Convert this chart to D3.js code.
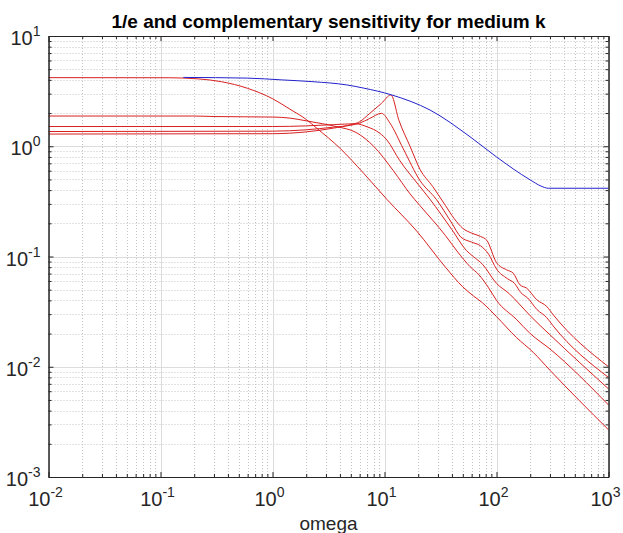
<!DOCTYPE html>
<html>
<head>
<meta charset="utf-8">
<script src="https://cdn.jsdelivr.net/npm/d3@7"></script>
<style>
  body { margin: 0; background: #fff; }
  text { font-family: "Liberation Sans", Arial, sans-serif; fill: #262626; }
</style>
</head>
<body>
<svg id="chart" width="623" height="533"></svg>
<script>
const title = '1/e and complementary sensitivity for medium k';
const xLabel = 'omega';
const xDecades = [-2, -1, 0, 1, 2, 3];
const yDecades = [-3, -2, -1, 0, 1];

// 1/e bound, [omega, magnitude]
const invE = [
  [0.16, 4.21], [0.6, 4.15], [1.2, 4.0], [2.3, 3.85], [4.6, 3.6], [6.5, 3.37],
  [11.6, 2.92], [25.5, 2.13], [58, 1.22], [100, 0.80], [200, 0.495], [250, 0.435],
  [290, 0.416], [1000, 0.416]
];

// complementary sensitivity, one array per plant
const tA = [
  [0.01, 4.19], [0.12, 4.18], [0.22, 4.08], [0.35, 3.85], [0.6, 3.35], [1.0, 2.7],
  [1.43, 2.17], [2.0, 1.75], [2.5, 1.45], [4.0, 0.96], [6.5, 0.57], [10.5, 0.33],
  [19.4, 0.17], [35, 0.08], [50, 0.053], [62, 0.044], [75, 0.038], [100, 0.0285],
  [150, 0.0185], [213, 0.0135], [300, 0.0093], [1000, 0.00268]
];
const tB = [
  [0.01, 1.88], [0.2, 1.88], [0.3, 1.86], [1.0, 1.84], [1.43, 1.80], [2.0, 1.70],
  [2.8, 1.60], [3.7, 1.51], [5.6, 1.33], [8, 1.0], [12, 0.6], [16.9, 0.37],
  [20.7, 0.29], [35, 0.155], [45, 0.11], [58, 0.081], [70, 0.068], [85, 0.052],
  [100, 0.040], [150, 0.027], [200, 0.020], [300, 0.0145], [1000, 0.0045]
];
const tC = [
  [0.01, 1.51], [1.0, 1.51], [2.0, 1.53], [3.5, 1.57], [5.5, 1.60], [7, 1.50],
  [9.1, 1.31], [10.5, 1.14], [13.7, 0.74], [20, 0.45], [25.5, 0.33], [40, 0.175],
  [54, 0.113], [62, 0.1], [75, 0.085], [100, 0.057], [130, 0.046], [160, 0.037],
  [200, 0.029], [300, 0.0195], [1000, 0.0063]
];
const tD = [
  [0.01, 1.36], [1.0, 1.37], [2.0, 1.41], [3.5, 1.49], [5, 1.55], [6, 1.62],
  [7.4, 1.79], [9.4, 1.99], [11.2, 1.62], [14.7, 0.95], [20.7, 0.49], [29, 0.33],
  [40, 0.2], [48, 0.15], [60, 0.135], [72, 0.125], [85, 0.105], [100, 0.077],
  [125, 0.063], [145, 0.057], [165, 0.047], [190, 0.042], [230, 0.033], [280, 0.028],
  [320, 0.0235], [1000, 0.0080]
];
const tE = [
  [0.01, 1.29], [1.0, 1.30], [2.0, 1.35], [3.5, 1.46], [5, 1.57], [6, 1.67],
  [7.4, 1.99], [9.4, 2.45], [11.4, 2.92], [13.5, 1.7], [16.9, 1.0], [20.7, 0.62],
  [27, 0.43], [35, 0.29], [42, 0.22], [50, 0.18], [60, 0.163], [72, 0.152],
  [82, 0.14], [100, 0.088], [123, 0.0757], [141, 0.0706], [162, 0.0553],
  [186, 0.0516], [229, 0.0405], [281, 0.0352], [321, 0.0296], [1000, 0.0100]
];
const tCurves = [tA, tB, tC, tD, tE];

const W = 623, H = 533;
const margin = { top: 36, right: 14.5, bottom: 56, left: 48.5 };

const svg = d3.select('#chart');

const x = d3.scaleLog().domain([1e-2, 1e3]).range([margin.left, W - margin.right]);
const y = d3.scaleLog().domain([1e-3, 1e1]).range([H - margin.bottom, margin.top]);

const isMajor = v => Math.abs(Math.log10(v) - Math.round(Math.log10(v))) < 1e-9;
const xMajor = xDecades.map(e => Math.pow(10, e));
const yMajor = yDecades.map(e => Math.pow(10, e));
const xMinor = x.ticks().filter(v => !isMajor(v));
const yMinor = y.ticks().filter(v => !isMajor(v));

const [x0, x1] = x.range();
const [y0, y1] = y.range();

/* grid, minor dotted then major solid */
const grid = svg.append('g').attr('id', 'grid');
grid.selectAll('line.xmin').data(xMinor).join('line')
  .attr('class', 'xmin')
  .attr('x1', d => Math.round(x(d)) + 0.5).attr('x2', d => Math.round(x(d)) + 0.5)
  .attr('y1', y1).attr('y2', y0)
  .attr('stroke', '#c4c4c4').attr('stroke-dasharray', '1,2');
grid.selectAll('line.ymin').data(yMinor).join('line')
  .attr('class', 'ymin')
  .attr('y1', d => Math.round(y(d)) + 0.5).attr('y2', d => Math.round(y(d)) + 0.5)
  .attr('x1', x0).attr('x2', x1)
  .attr('stroke', '#c4c4c4').attr('stroke-dasharray', '1,2');
grid.selectAll('line.xmaj').data(xMajor).join('line')
  .attr('class', 'xmaj')
  .attr('x1', d => Math.round(x(d)) + 0.5).attr('x2', d => Math.round(x(d)) + 0.5)
  .attr('y1', y1).attr('y2', y0)
  .attr('stroke', '#dcdcdc');
grid.selectAll('line.ymaj').data(yMajor).join('line')
  .attr('class', 'ymaj')
  .attr('y1', d => Math.round(y(d)) + 0.5).attr('y2', d => Math.round(y(d)) + 0.5)
  .attr('x1', x0).attr('x2', x1)
  .attr('stroke', '#dcdcdc');

/* curves */
const line = d3.line()
  .x(d => x(d[0]))
  .y(d => y(d[1]))
  .curve(d3.curveMonotoneX);

svg.append('g').attr('id', 'tcurves')
  .selectAll('path').data(tCurves).join('path')
  .attr('d', line)
  .attr('fill', 'none')
  .attr('stroke', '#d82020')
  .attr('stroke-width', 1);

svg.append('path')
  .datum(invE)
  .attr('d', line)
  .attr('fill', 'none')
  .attr('stroke', '#2222cc')
  .attr('stroke-width', 1);

/* axes: inward ticks on all four sides */
const majLen = 5, minLen = 3;
function addAxis(axisFn, scale, values, len, transform) {
  svg.append('g')
    .attr('transform', transform)
    .call(axisFn(scale).tickValues(values).tickSize(-len).tickSizeOuter(0).tickFormat(''))
    .call(g => g.selectAll('line').attr('stroke', '#262626'))
    .call(g => g.select('.domain').attr('stroke', '#262626'));
}
addAxis(d3.axisBottom, x, xMajor, majLen, `translate(0,${y0})`);
addAxis(d3.axisBottom, x, xMinor, minLen, `translate(0,${y0})`);
addAxis(d3.axisTop, x, xMajor, majLen, `translate(0,${y1})`);
addAxis(d3.axisTop, x, xMinor, minLen, `translate(0,${y1})`);
addAxis(d3.axisLeft, y, yMajor, majLen, `translate(${x0},0)`);
addAxis(d3.axisLeft, y, yMinor, minLen, `translate(${x0},0)`);
addAxis(d3.axisRight, y, yMajor, majLen, `translate(${x1},0)`);
addAxis(d3.axisRight, y, yMinor, minLen, `translate(${x1},0)`);

/* tick labels as 10^n */
function powLabel(sel) {
  sel.append('tspan').text('10');
  sel.append('tspan').attr('dy', -9).attr('font-size', 14).text(d => d);
}
svg.append('g').selectAll('text').data(xDecades).join('text')
  .attr('x', d => x(Math.pow(10, d)) - 3)
  .attr('y', y0 + 29)
  .attr('text-anchor', 'middle')
  .attr('font-size', 20)
  .call(powLabel);
svg.append('g').selectAll('text').data(yDecades).join('text')
  .attr('x', x0 - 8)
  .attr('y', d => y(Math.pow(10, d)) + 9)
  .attr('text-anchor', 'end')
  .attr('font-size', 20)
  .call(powLabel);

svg.append('text')
  .attr('x', (x0 + x1) / 2)
  .attr('y', H - 3)
  .attr('text-anchor', 'middle')
  .attr('font-size', 19)
  .text(xLabel);

svg.append('text')
  .attr('x', (x0 + x1) / 2)
  .attr('y', 28)
  .attr('text-anchor', 'middle')
  .attr('font-size', 19)
  .attr('font-weight', 'bold')
  .style('fill', '#000')
  .text(title);
</script>
</body>
</html>
